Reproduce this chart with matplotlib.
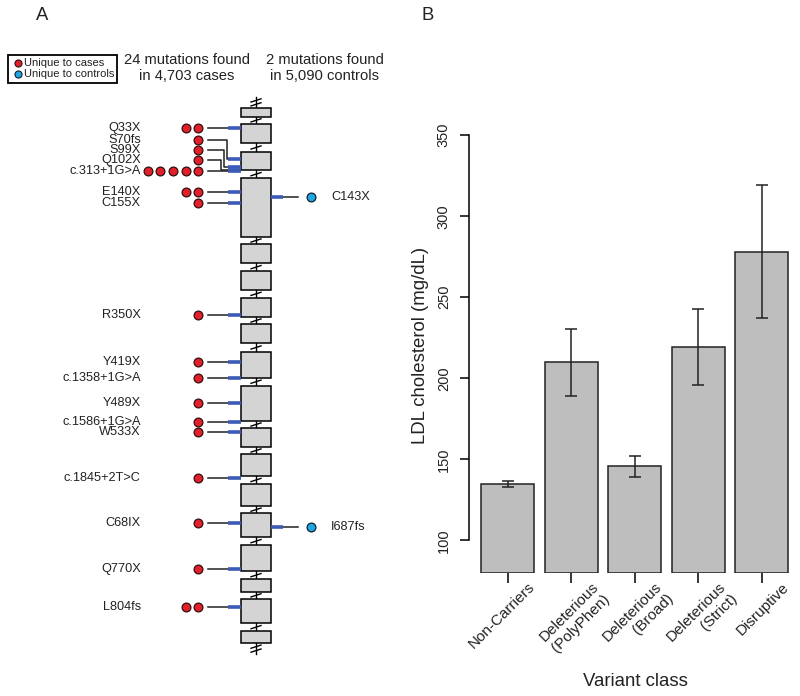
import numpy as np
import matplotlib
matplotlib.use("Agg")
import matplotlib.pyplot as plt
from matplotlib.patches import Rectangle
from matplotlib.transforms import ScaledTranslation

plt.rcParams['font.family'] = ['Liberation Sans', 'DejaVu Sans']

# ---------------- panel A: LDLR exon schematic (units = px down the page) -------------
exon_top = [107.7, 124.0, 151.7, 178.3, 244.3, 271.0, 297.7, 324.3, 351.7,
            385.7, 428.3, 454.3, 484.0, 513.3, 545.0, 579.3, 599.0, 631.0]
exon_bot = [116.7, 143.3, 170.0, 236.7, 263.3, 290.0, 316.7, 343.3, 377.7,
            420.7, 446.7, 476.0, 506.0, 537.3, 571.0, 591.7, 623.3, 642.7]

case_names = ["Q33X", "S70fs", "S99X", "Q102X", "c.313+1G>A", "E140X", "C155X",
              "R350X", "Y419X", "c.1358+1G>A", "Y489X", "c.1586+1G>A", "W533X",
              "c.1845+2T>C", "C68IX", "Q770X", "L804fs"]
case_counts = [2, 1, 1, 1, 5, 2, 1, 1, 1, 1, 1, 1, 1, 1, 1, 1, 2]
case_label_y = [128.3, 140.0, 150.0, 160.0, 170.7, 192.3, 202.7, 315.0, 362.3,
                378.3, 402.7, 421.7, 431.7, 477.7, 522.7, 569.3, 606.7]
case_hit_y = [128.3, 159.0, 167.3, 170.0, 170.7, 192.3, 202.7, 315.0, 362.3,
              378.3, 402.7, 421.7, 431.7, 477.7, 522.7, 569.3, 606.7]

ctrl_names = ["C143X", "I687fs"]
ctrl_counts = [1, 1]
ctrl_y = [196.7, 526.7]

# ---------------- panel B: LDL by variant class ----------------
classes = ["Non-Carriers", "Deleterious\n(PolyPhen)", "Deleterious\n(Broad)",
           "Deleterious\n(Strict)", "Disruptive"]
ldl_mean = [134.5, 210.0, 145.7, 219.5, 278.0]
ldl_lo = [132.8, 189.3, 139.2, 195.9, 237.0]
ldl_hi = [136.5, 230.3, 152.2, 243.0, 319.0]

RED = '#e2202a'
CYAN = '#1ea7e1'
BLUE = '#3b5bb5'

fig = plt.figure(figsize=(8, 6.96), dpi=100)

#******************* panel A ***********************#
axA = fig.add_axes([0, 0, 0.5, 1])
axA.set_xlim(0, 400)
axA.set_ylim(696, 0)
axA.axis('off')

gx0, gx1 = 241.3, 270.7
gc = (gx0 + gx1) / 2

def slash(ax, y):
    ax.plot([gc - 5, gc + 5], [y + 1.6, y - 1.6], color='k', lw=1.0)

for b, t in zip(exon_bot[:-1], exon_top[1:]):
    axA.plot([gc, gc], [b, t], color='k', lw=1.0, zorder=1)
    slash(axA, (b + t) / 2)
# open ends of the gene
for y0, y1 in [(96.5, exon_top[0]), (exon_bot[-1], 654)]:
    axA.plot([gc, gc], [y0, y1], color='k', lw=1.0, zorder=1)
    slash(axA, y0 + (y1 - y0) * 0.35)
    slash(axA, y0 + (y1 - y0) * 0.7)

for t, b in zip(exon_top, exon_bot):
    axA.add_patch(Rectangle((gx0, t), gx1 - gx0, b - t, fc='#d4d4d4', ec='k', lw=1.1, zorder=2))

bend = 0
for name, n, ly, hy in zip(case_names, case_counts, case_label_y, case_hit_y):
    if abs(hy - ly) > 1:
        ex = 226.7 - 2.7 * bend
        bend += 1
        axA.plot([208.3, ex, ex, 228.3], [ly, ly, hy, hy], color='#222222', lw=1.1)
    else:
        axA.plot([208.3, 228.3], [ly, ly], color='#222222', lw=1.1)
    axA.plot([228.3, gx0], [hy, hy], color=BLUE, lw=2.6, solid_capstyle='butt', zorder=3)
    axA.scatter(198.3 - 12.7 * np.arange(n), [ly] * n, s=40, c=RED,
                edgecolors='#301010', linewidths=0.9, zorder=4)
    axA.text(140.7, ly, name, ha='right', va='center', fontsize=9.2, color='#222222')

for name, n, y in zip(ctrl_names, ctrl_counts, ctrl_y):
    axA.plot([gx1, 283.3], [y, y], color=BLUE, lw=2.6, solid_capstyle='butt', zorder=3)
    axA.plot([283.3, 298.3], [y, y], color='#222222', lw=1.1)
    axA.scatter(310.7 + 12.7 * np.arange(n), [y] * n, s=40, c=CYAN,
                edgecolors='#102030', linewidths=0.9, zorder=4)
    axA.text(331, y, name, ha='left', va='center', fontsize=9.2, color='#222222')

axA.text(186.7, 68, "24 mutations found\nin 4,703 cases", ha='center', va='center',
         fontsize=10.6, linespacing=1.15, color='#222222')
axA.text(325, 68, "2 mutations found\nin 5,090 controls", ha='center', va='center',
         fontsize=10.6, linespacing=1.15, color='#222222')

# legend box
axA.add_patch(Rectangle((8.3, 55), 109, 28.3, fill=False, ec='k', lw=1.3))
axA.scatter([18.3], [63.3], s=26, c=RED, edgecolors='#301010', linewidths=0.8, zorder=4)
axA.scatter([18.3], [74.3], s=26, c=CYAN, edgecolors='#102030', linewidths=0.8, zorder=4)
axA.text(24.5, 63.3, "Unique to cases", ha='left', va='center', fontsize=8, color='#222222')
axA.text(24.5, 74.3, "Unique to controls", ha='left', va='center', fontsize=8, color='#222222')

fig.text(42 / 800, 1 - 15 / 696, "A", ha='center', va='center', fontsize=13.3, color='#222222')
fig.text(427.7 / 800, 1 - 15.7 / 696, "B", ha='center', va='center', fontsize=13.3, color='#222222')

#******************* panel B ***********************#
axB = fig.add_axes([469 / 800, (696 - 573.3) / 696, 331.5 / 800, (573.3 - 118.4) / 696])
y_lo, y_hi = 79.6, 360.4
axB.set_ylim(y_lo, y_hi)
axB.set_xlim(-0.032, 6.232)

mean = np.array(ldl_mean)
xpos = 0.7 + 1.2 * np.arange(len(classes))
axB.bar(xpos, mean - y_lo, bottom=y_lo, width=1.0, color='#bebebe', edgecolor='#222222', lw=1.1)
axB.errorbar(xpos, mean, yerr=[mean - np.array(ldl_lo), np.array(ldl_hi) - mean],
             fmt='none', ecolor='#222222', elinewidth=1.1, capsize=4.3, capthick=1.1)

for s in ['top', 'right', 'bottom']:
    axB.spines[s].set_visible(False)
axB.spines['left'].set_bounds(100, 350)
axB.spines['left'].set_linewidth(1.1)
axB.set_yticks([100, 150, 200, 250, 300, 350])
axB.tick_params(axis='y', length=6.5, width=1.1, labelsize=10.5, labelrotation=90, pad=6.5,
                labelcolor='#222222')
for lab in axB.get_yticklabels():
    lab.set_va('center')

axB.set_xticks(xpos)
axB.set_xticklabels(classes, rotation=45, ha='right', va='top', rotation_mode='anchor',
                    fontsize=11, color='#222222')
axB.tick_params(axis='x', length=7.2, width=1.1, pad=0)
offset = ScaledTranslation(20 / 100, 3.3 / 100, fig.dpi_scale_trans)
for lab in axB.get_xticklabels():
    lab.set_transform(lab.get_transform() + offset)

axB.text((420 - 469) / 331.5, 0.5, "LDL cholesterol (mg/dL)", transform=axB.transAxes,
         rotation=90, ha='center', va='center', fontsize=13.4, color='#222222')
fig.text(635 / 800, 1 - 681.7 / 696, "Variant class", ha='center', va='center',
         fontsize=13.4, color='#222222')

plt.savefig("out.png", dpi=100)
